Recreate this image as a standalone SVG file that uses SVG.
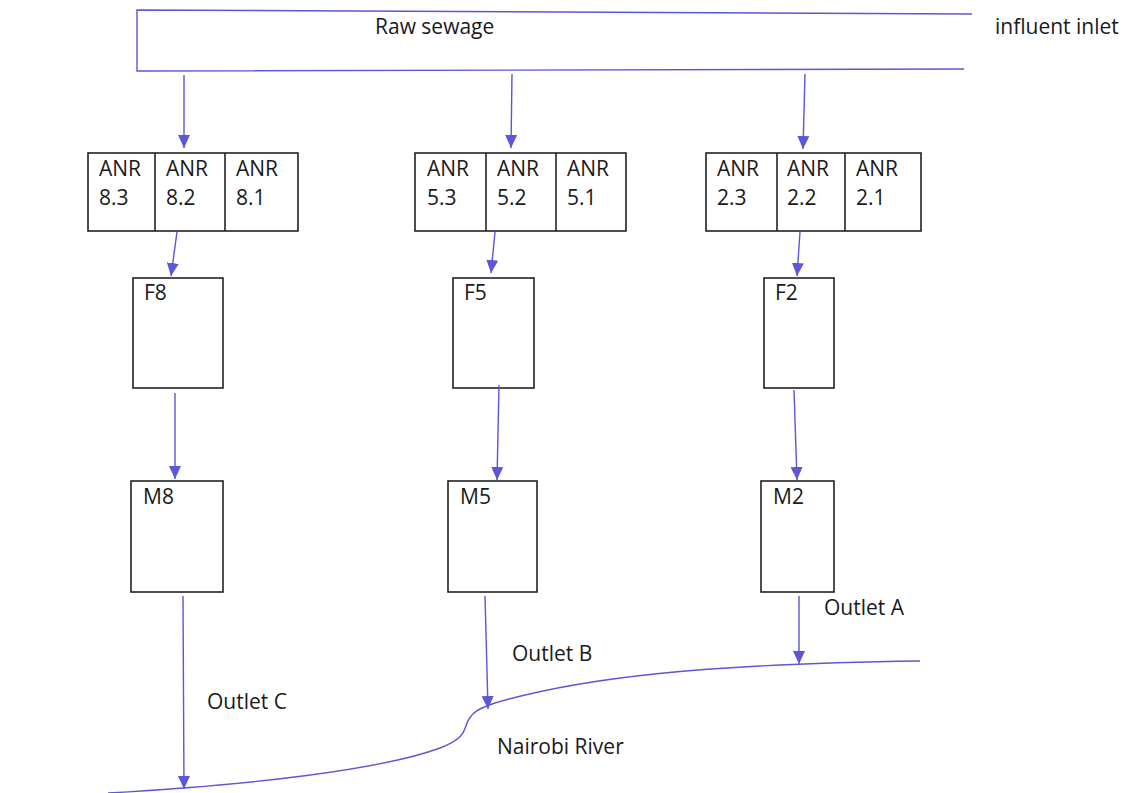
<svg xmlns="http://www.w3.org/2000/svg" width="1132" height="793" viewBox="0 0 1132 793">
<style>
.box{fill:#fff;stroke:#222;stroke-width:1.6}
.t{font-family:"Open Sans","Liberation Sans",sans-serif;font-size:21px;fill:#1a1a1a}
.c{fill:none;stroke:#5b57d6;stroke-width:1.4}
.ca{fill:none;stroke:#5b57d6;stroke-width:1.4;marker-end:url(#ah)}
</style>
<defs>
<marker id="ah" markerUnits="userSpaceOnUse" markerWidth="14" markerHeight="14" viewBox="0 0 14 14" refX="13" refY="7" orient="auto">
<path d="M0,1 L13,7 L0,13 Z" fill="#5b57d6"/>
</marker>
</defs>
<g id="inlet">
<polyline class="c" points="972,14 137,10 137,71 964,69"/>
<text class="t" x="375" y="34">Raw sewage</text>
<text class="t" x="995" y="34">influent inlet</text>
</g>
<g id="anr8">
<rect class="box" x="88" y="153" width="210" height="78"/>
<line class="box" x1="155" y1="153" x2="155" y2="231"/>
<line class="box" x1="225" y1="153" x2="225" y2="231"/>
<text class="t" x="99" y="176">ANR</text><text class="t" x="99" y="205">8.3</text>
<text class="t" x="166" y="176">ANR</text><text class="t" x="166" y="205">8.2</text>
<text class="t" x="236" y="176">ANR</text><text class="t" x="236" y="205">8.1</text>
</g>
<g id="anr5">
<rect class="box" x="415" y="153" width="211" height="78"/>
<line class="box" x1="486" y1="153" x2="486" y2="231"/>
<line class="box" x1="556" y1="153" x2="556" y2="231"/>
<text class="t" x="427" y="176">ANR</text><text class="t" x="427" y="205">5.3</text>
<text class="t" x="497" y="176">ANR</text><text class="t" x="497" y="205">5.2</text>
<text class="t" x="567" y="176">ANR</text><text class="t" x="567" y="205">5.1</text>
</g>
<g id="anr2">
<rect class="box" x="706" y="153" width="215" height="78"/>
<line class="box" x1="777" y1="153" x2="777" y2="231"/>
<line class="box" x1="845" y1="153" x2="845" y2="231"/>
<text class="t" x="717" y="176">ANR</text><text class="t" x="717" y="205">2.3</text>
<text class="t" x="787" y="176">ANR</text><text class="t" x="787" y="205">2.2</text>
<text class="t" x="856" y="176">ANR</text><text class="t" x="856" y="205">2.1</text>
</g>
<g id="F8"><rect class="box" x="133" y="278" width="90" height="110"/><text class="t" x="144" y="300">F8</text></g>
<g id="F5"><rect class="box" x="453" y="278" width="81" height="110"/><text class="t" x="464" y="300">F5</text></g>
<g id="F2"><rect class="box" x="764" y="278" width="70" height="110"/><text class="t" x="775" y="300">F2</text></g>
<g id="M8"><rect class="box" x="131" y="481" width="92" height="111"/><text class="t" x="143" y="504">M8</text></g>
<g id="M5"><rect class="box" x="448" y="481" width="89" height="111"/><text class="t" x="460" y="504">M5</text></g>
<g id="M2"><rect class="box" x="761" y="481" width="73" height="111"/><text class="t" x="773" y="504">M2</text></g>
<g id="river">
<path class="c" d="M108,793 C250,785 380,770 440,748 C462,740 464,732 466,726 C470,712 480,708 495,703 C580,678 700,664 920,661"/>
<text class="t" x="497" y="754">Nairobi River</text>
</g>
<g id="connectors">
<line class="ca" x1="184" y1="75" x2="184" y2="148"/>
<line class="ca" x1="512" y1="74" x2="511" y2="148"/>
<line class="ca" x1="805" y1="74" x2="803" y2="149"/>
<line class="ca" x1="177" y1="232" x2="171" y2="276"/>
<line class="ca" x1="495" y1="232" x2="491" y2="273"/>
<line class="ca" x1="800" y1="232" x2="797" y2="276"/>
<line class="ca" x1="175" y1="393" x2="175" y2="479"/>
<line class="ca" x1="499" y1="385" x2="497" y2="480"/>
<line class="ca" x1="794" y1="390" x2="797" y2="480"/>
<line class="ca" x1="183" y1="596" x2="184" y2="789"/>
<line class="ca" x1="485" y1="596" x2="488" y2="709"/>
<line class="ca" x1="799" y1="596" x2="799" y2="664"/>
<text class="t" x="824" y="615">Outlet A</text>
<text class="t" x="512" y="661">Outlet B</text>
<text class="t" x="207" y="709">Outlet C</text>
</g>
</svg>
